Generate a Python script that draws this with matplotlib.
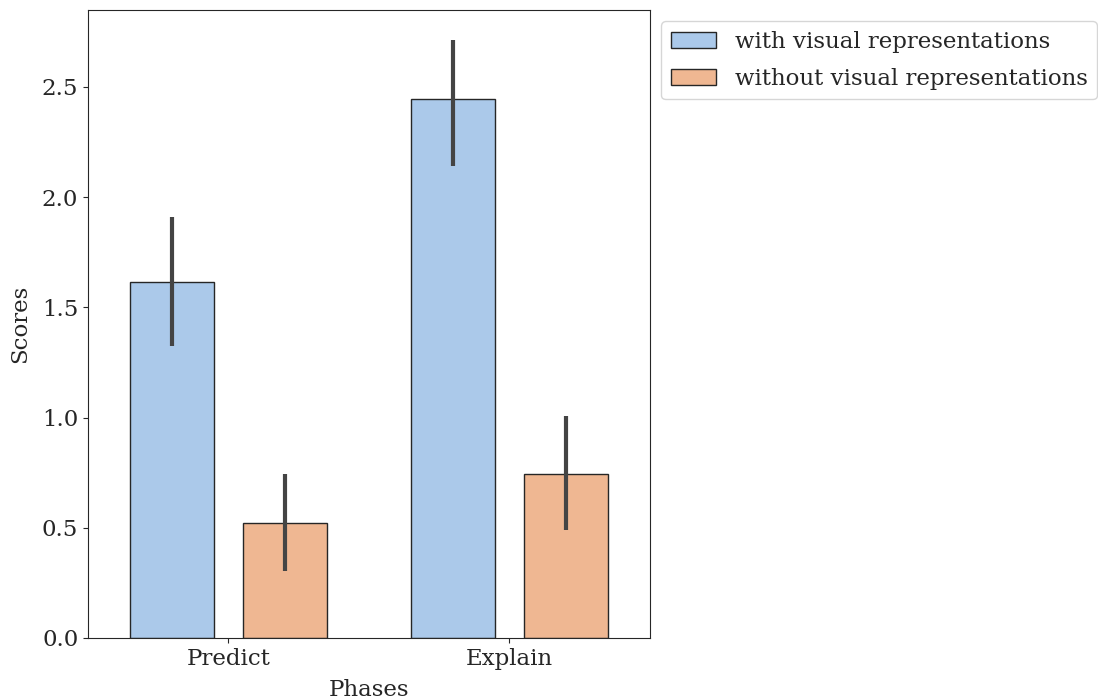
import colorsys
import numpy as np
import matplotlib
matplotlib.use("Agg")
import matplotlib.pyplot as plt
import matplotlib.colors as mcolors

phases = ["Predict", "Explain"]
groups = ["with visual representations", "without visual representations"]
means_with = [1.615, 2.446]
ci_with_low = [1.325, 2.142]
ci_with_high = [1.910, 2.713]
means_without = [0.522, 0.744]
ci_without_low = [0.304, 0.490]
ci_without_high = [0.744, 1.007]

def desat(c, p=0.75):
    r, g, b = mcolors.to_rgb(c)
    h, l, s = colorsys.rgb_to_hls(r, g, b)
    return colorsys.hls_to_rgb(h, l, s * p)

colors = [desat("#a1c9f4"), desat("#ffb482")]

plt.rcParams["font.family"] = ["DejaVu Serif"]
plt.rcParams["font.size"] = 16.5
for k in ["text.color", "axes.labelcolor", "xtick.color", "ytick.color", "axes.edgecolor"]:
    plt.rcParams[k] = "0.15"

fig = plt.figure(figsize=(10.98, 7.0), dpi=100)
ax = fig.add_axes([88/1098, 1 - 638/700, (650-88)/1098, (638-10)/700])

x = np.arange(len(phases))
w = 0.3
off = 0.2
series = [(means_with, ci_with_low, ci_with_high), (means_without, ci_without_low, ci_without_high)]
for i, (m, lo, hi) in enumerate(series):
    pos = x + (-off if i == 0 else off)
    ax.bar(pos, m, width=w, color=colors[i], edgecolor="0.15", linewidth=1.0, label=groups[i], zorder=2)
    for p, l, h in zip(pos, lo, hi):
        ax.plot([p, p], [l, h], color="#444444", lw=3.0, solid_capstyle="butt", zorder=3)

ax.set_xlim(-0.5, 1.5)
ax.set_ylim(0, 2.849)
ax.set_xticks(x)
ax.set_xticklabels(phases)
ax.set_yticks([0, 0.5, 1.0, 1.5, 2.0, 2.5])
ax.set_xlabel("Phases", labelpad=7)
ax.set_ylabel("Scores", labelpad=7.5)
ax.legend(loc="upper left", bbox_to_anchor=(1.0, 1.0), frameon=True, fontsize=16.5, labelspacing=0.68)

fig.savefig("out.png", dpi=100)
